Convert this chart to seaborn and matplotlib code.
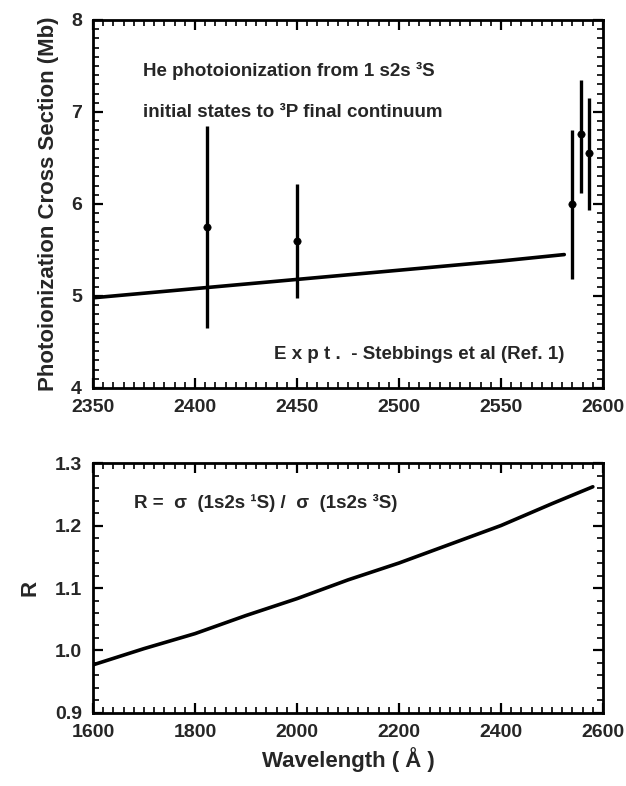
import matplotlib
matplotlib.use("Agg")
import matplotlib.pyplot as plt
import seaborn as sns
import numpy as np
import pandas as pd
from matplotlib.ticker import MultipleLocator

# ---- data ----
theory_wl = [2350, 2400, 2450, 2500, 2550, 2581]
theory_sigma = [4.98, 5.08, 5.18, 5.28, 5.38, 5.45]

expt_wl = [2406, 2450, 2585, 2589, 2593]
expt_sigma = [5.75, 5.60, 6.00, 6.76, 6.55]
expt_lo = [4.65, 4.98, 5.18, 6.12, 5.93]
expt_hi = [6.85, 6.22, 6.80, 7.35, 7.15]

ratio_wl = [1600, 1700, 1800, 1900, 2000, 2100, 2200, 2300, 2400, 2500, 2580]
ratio_R = [0.977, 1.003, 1.027, 1.056, 1.083, 1.113, 1.140, 1.170, 1.200, 1.235, 1.262]

sns.set_theme(style="white")
plt.rcParams['font.family'] = ['Liberation Sans', 'DejaVu Sans']
plt.rcParams['font.weight'] = 'bold'

fig = plt.figure(figsize=(6.26, 7.86), dpi=100)
ax1 = fig.add_axes([0.1486, 0.5064, 0.8147, 0.4682])
ax2 = fig.add_axes([0.1486, 0.0929, 0.8147, 0.318])

df1 = pd.DataFrame({"wl": theory_wl, "sigma": theory_sigma})
sns.lineplot(data=df1, x="wl", y="sigma", ax=ax1, color="black", lw=2.6)
dfe = pd.DataFrame({"wl": expt_wl, "sigma": expt_sigma})
yerr = [np.array(expt_sigma) - np.array(expt_lo), np.array(expt_hi) - np.array(expt_sigma)]
ax1.errorbar(expt_wl, expt_sigma, yerr=yerr, fmt="none", ecolor="black", elinewidth=2.4, capsize=0)
sns.scatterplot(data=dfe, x="wl", y="sigma", ax=ax1, color="black", s=28, edgecolor="black", zorder=5)

df2 = pd.DataFrame({"wl": ratio_wl, "R": ratio_R})
sns.lineplot(data=df2, x="wl", y="R", ax=ax2, color="black", lw=2.6)

ax1.set_xlim(2350, 2600)
ax1.set_ylim(4, 8)
ax1.xaxis.set_major_locator(MultipleLocator(50))
ax1.xaxis.set_minor_locator(MultipleLocator(5))
ax1.yaxis.set_major_locator(MultipleLocator(1))
ax1.yaxis.set_minor_locator(MultipleLocator(0.1))

ax2.set_xlim(1600, 2600)
ax2.set_ylim(0.9, 1.3)
ax2.xaxis.set_major_locator(MultipleLocator(200))
ax2.xaxis.set_minor_locator(MultipleLocator(20))
ax2.yaxis.set_major_locator(MultipleLocator(0.1))
ax2.yaxis.set_minor_locator(MultipleLocator(0.02))
ax2.yaxis.set_major_formatter(matplotlib.ticker.FormatStrFormatter('%.1f'))

for ax in (ax1, ax2):
    for s in ax.spines.values():
        s.set_linewidth(2.0)
        s.set_color("black")
    ax.tick_params(which="both", direction="in", top=True, right=True, bottom=True, left=True,
                   color="black")
    ax.tick_params(which="major", length=7, width=1.6, labelsize=14, pad=8)
    ax.tick_params(which="minor", length=4, width=1.2)
    for lab in ax.get_xticklabels() + ax.get_yticklabels():
        lab.set_fontweight("bold")

ax1.set_xlabel("")
ax1.set_ylabel("Photoionization Cross Section (Mb)", fontsize=16, fontweight="bold", labelpad=9)
ax2.set_ylabel("R", fontsize=16, fontweight="bold", labelpad=10)
ax2.set_xlabel("Wavelength ( Å )", fontsize=16, fontweight="bold", labelpad=4)

ax1.text(0.098, 0.862, "He photoionization from 1 s2s ³S", transform=ax1.transAxes,
         fontsize=13.5, fontweight="bold", va="center")
ax1.text(0.098, 0.748, "initial states to ³P final continuum", transform=ax1.transAxes,
         fontsize=13.5, fontweight="bold", va="center")
ax1.text(0.355, 0.092, "E x p t .  - Stebbings et al (Ref. 1)", transform=ax1.transAxes,
         fontsize=13.5, fontweight="bold", va="center")
ax2.text(0.08, 0.84, "R =  σ  (1s2s ¹S) /  σ  (1s2s ³S)", transform=ax2.transAxes,
         fontsize=13.5, fontweight="bold", va="center")

fig.savefig("out.png", dpi=100)
